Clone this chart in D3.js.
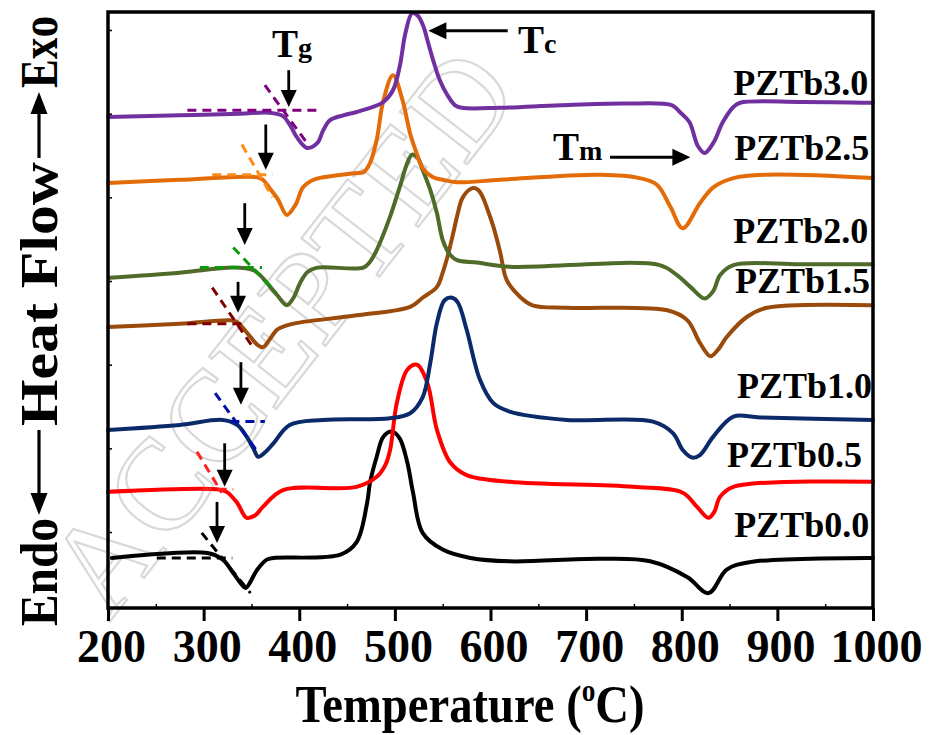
<!DOCTYPE html>
<html>
<head>
<meta charset="utf-8">
<script src="https://cdn.jsdelivr.net/npm/d3@7"></script>
<style>
  body { margin: 0; background: #fff; }
  svg { display: block; }
  text { font-family: "Liberation Serif", "Times New Roman", serif; font-weight: bold; fill: #000; }
</style>
</head>
<body>
<svg id="chart" width="931" height="735"></svg>
<script>
// ---- DSC heat-flow traces, [temperature (°C), heat flow (a.u., offset per sample)] ----
const pztb00 = [[204,0.69],[304,0.75],[320,0.67],[331,0.51],[340,0.37],[344,0.33],[356,0.55],[366,0.67],[373,0.69],
  [443,0.73],[460,0.88],[471,1.35],[474,1.59],[481,1.90],[488,2.14],[497,2.20],[505,2.12],[513,1.83],[519,1.47],
  [529,0.99],[550,0.79],[579,0.69],[620,0.65],[715,0.68],[767,0.65],[806,0.46],[828,0.27],[847,0.55],[871,0.64],[1000,0.69]];
const pztb05 = [[200,1.48],[314,1.51],[324,1.48],[335,1.35],[345,1.17],[354,1.20],[362,1.30],[383,1.50],[460,1.54],
  [481,1.66],[490,1.80],[495,1.98],[502,2.54],[513,2.94],[523,3.00],[534,2.78],[544,2.22],[558,1.83],[575,1.68],
  [620,1.60],[749,1.54],[801,1.47],[816,1.30],[828,1.17],[834,1.24],[840,1.42],[854,1.54],[1000,1.60]];
const pztb10 = [[200,2.22],[275,2.28],[320,2.34],[335,2.28],[345,2.14],[352,2.00],[357,1.90],[364,1.95],[373,2.06],
  [390,2.28],[425,2.34],[495,2.36],[516,2.42],[529,2.61],[537,3.02],[544,3.50],[552,3.77],[560,3.80],[566,3.74],
  [575,3.42],[589,2.82],[603,2.54],[620,2.44],[680,2.34],[770,2.32],[791,2.18],[801,1.98],[811,1.89],[819,1.92],
  [833,2.14],[854,2.38],[882,2.37],[1000,2.34]];
const pztb15 = [[200,3.45],[275,3.49],[328,3.53],[335,3.51],[341,3.44],[349,3.33],[356,3.24],[362,3.21],[369,3.30],
  [377,3.42],[387,3.47],[398,3.50],[460,3.59],[516,3.69],[529,3.80],[544,3.93],[550,4.10],[555,4.29],[561,4.57],
  [565,4.77],[571,5.00],[581,5.11],[587,5.09],[592,5.00],[597,4.85],[603,4.65],[610,4.35],[617,4.01],[631,3.81],
  [644,3.71],[680,3.68],[785,3.65],[806,3.53],[819,3.26],[830,3.10],[838,3.18],[847,3.33],[868,3.57],[889,3.68],[1000,3.71]];
const pztb20 = [[202,4.04],[275,4.10],[331,4.16],[352,4.13],[359,4.07],[366,3.98],[377,3.83],[387,3.71],[394,3.80],
  [401,3.98],[409,4.11],[419,4.16],[467,4.16],[474,4.23],[481,4.37],[495,4.77],[505,5.12],[513,5.41],[518,5.51],
  [524,5.47],[529,5.33],[537,5.09],[544,4.81],[550,4.49],[558,4.31],[565,4.25],[586,4.22],[620,4.17],[777,4.19],
  [795,4.07],[809,3.93],[824,3.79],[833,3.88],[840,4.07],[854,4.19],[924,4.20],[1000,4.20]];
const pztb25 = [[200,5.17],[275,5.21],[356,5.24],[362,5.21],[369,5.11],[378,4.97],[387,4.79],[396,4.91],[404,5.12],
  [415,5.21],[425,5.24],[460,5.29],[467,5.30],[474,5.41],[481,5.69],[488,6.16],[498,6.46],[508,6.16],[516,5.76],
  [523,5.52],[529,5.35],[540,5.24],[550,5.21],[565,5.18],[610,5.21],[715,5.27],[756,5.23],[774,5.15],[788,4.89],
  [801,4.63],[819,4.93],[833,5.12],[854,5.23],[889,5.27],[1000,5.23]];
const pztb30 = [[200,5.96],[275,5.98],[338,6.00],[369,6.01],[383,5.97],[390,5.87],[398,5.71],[408,5.59],[419,5.65],
  [425,5.80],[432,5.92],[446,5.98],[460,6.02],[477,6.08],[488,6.14],[498,6.28],[505,6.56],[511,6.96],[518,7.20],
  [524,7.17],[530,7.04],[534,6.88],[540,6.64],[547,6.40],[555,6.22],[563,6.10],[570,6.07],[610,6.07],[673,6.10],
  [740,6.12],[790,6.10],[798,6.02],[808,5.90],[817,5.61],[824,5.53],[833,5.65],[843,5.90],[854,6.08],[861,6.13],
  [924,6.14],[1000,6.13]];

const sampleNames = ["PZTb0.0", "PZTb0.5", "PZTb1.0", "PZTb1.5", "PZTb2.0", "PZTb2.5", "PZTb3.0"];
const traces = [pztb00, pztb05, pztb10, pztb15, pztb20, pztb25, pztb30];

// Glass-transition onset construction: baseline [T1, T2, v], step tangent [T1, v1, T2, v2]
const tgBaselines = [[251,330,0.69],[299,331,1.51],[328,364,2.32],[283,345,3.49],[296,361,4.16],[309,372,5.27],[283,419,6.04]];
const tgTangents = [[298,0.99,349,0.27],[293,1.96,319,1.47],[312,2.66,357,1.95],[309,3.92,352,3.20],[331,4.40,375,3.87],[340,5.63,372,5.00],[364,6.34,408,5.65]];
// Tg marker arrows: onset temperature, arrow tail and tip heat-flow levels
const tgOnsets = [314, 322, 339, 336, 343, 365, 389];
const tgArrowTail = [1.36, 2.06, 3.03, 3.99, 4.93, 5.87, 6.52];
const tgArrowTip = [0.87, 1.54, 2.52, 3.62, 4.43, 5.33, 6.08];

const xTickValues = [200, 300, 400, 500, 600, 700, 800, 900, 1000];
const xMinorTicks = [250, 350, 450, 550, 650, 750, 850, 950];
const yMinorTicks = [1, 2, 3, 4, 5, 6, 7];

// ---- styling ----
const traceColors = ["#000000", "#ff0000", "#0b2a6a", "#9a4b0b", "#4f6b2a", "#e36c09", "#7030a0"];
const tangentColors = ["#000000", "#ff2020", "#0010a8", "#800000", "#0a9a0a", "#ff8c1a", "#800080"];

// label layout: right end temperature and baseline level for each sample name
const labelLayout = [[996,0.94],[988.5,1.78],[999,2.60],[997,3.86],[995,4.45],[996,5.45],[995,6.22]];

const svg = d3.select("#chart");
const x = d3.scaleLinear().domain([200, 1000]).range([108, 873]);
const y = d3.scaleLinear().domain([0.092, 7.215]).range([608, 12]);

// faint diagonal watermark behind the plot
svg.append("text")
  .attr("transform", "translate(280,330) rotate(-52)")
  .attr("text-anchor", "middle")
  .attr("dy", "0.35em")
  .style("font-weight", "normal")
  .style("font-size", "130px")
  .style("fill", "none")
  .attr("stroke", "#d9d9d9")
  .attr("stroke-width", 2.2)
  .text("ACCEPTED");

const line = d3.line().x(d => x(d[0])).y(d => y(d[1])).curve(d3.curveCatmullRom.alpha(0.5));

// traces
svg.append("g").selectAll("path").data(traces).join("path")
  .attr("d", line)
  .attr("fill", "none")
  .attr("stroke", (d, i) => traceColors[i])
  .attr("stroke-width", 4)
  .attr("stroke-linejoin", "round")
  .attr("stroke-linecap", "round");

// onset construction lines
const dashG = svg.append("g").attr("fill", "none").attr("stroke-width", 3).attr("stroke-dasharray", "9,6");
dashG.selectAll("line.base").data(tgBaselines).join("line").attr("class", "base")
  .attr("x1", d => x(d[0])).attr("x2", d => x(d[1]))
  .attr("y1", d => y(d[2])).attr("y2", d => y(d[2]))
  .attr("stroke", (d, i) => tangentColors[i]);
dashG.selectAll("line.tan").data(tgTangents).join("line").attr("class", "tan")
  .attr("x1", d => x(d[0])).attr("y1", d => y(d[1]))
  .attr("x2", d => x(d[2])).attr("y2", d => y(d[3]))
  .attr("stroke", (d, i) => tangentColors[i]);

// arrow helper: shaft plus filled head, in pixel space
function arrow(g, x1, y1, x2, y2, headLen, headW, width) {
  const dx = x2 - x1, dy = y2 - y1, len = Math.hypot(dx, dy);
  const ux = dx / len, uy = dy / len;
  const bx = x2 - ux * headLen, by = y2 - uy * headLen;
  g.append("line").attr("x1", x1).attr("y1", y1).attr("x2", bx + ux * 2).attr("y2", by + uy * 2)
    .attr("stroke", "#000").attr("stroke-width", width);
  g.append("path")
    .attr("d", `M${x2},${y2}L${bx - uy * headW / 2},${by + ux * headW / 2}L${bx + uy * headW / 2},${by - ux * headW / 2}Z`)
    .attr("fill", "#000");
}

const annot = svg.append("g");
tgOnsets.forEach((t, i) => {
  arrow(annot, x(t), y(tgArrowTail[i]), x(t), y(tgArrowTip[i]), 17, 16, 2.8);
});
// crystallisation peak and melting dip markers
arrow(annot, x(618), y(6.99), x(535), y(6.99), 18, 17, 3);
arrow(annot, x(725), y(5.48), x(809), y(5.48), 18, 17, 3);

function subLabel(tx, ty, main, sub) {
  const t = svg.append("text").attr("x", tx).attr("y", ty);
  t.append("tspan").style("font-size", "39px").text(main);
  t.append("tspan").style("font-size", "28px").text(sub);
}
subLabel(x(371.5), y(6.677), "T", "g");
subLabel(x(628.8), y(6.725), "T", "c");
subLabel(x(665.3), y(5.446), "T", "m");

// sample names
svg.append("g").selectAll("text").data(sampleNames).join("text")
  .attr("x", (d, i) => x(labelLayout[i][0]))
  .attr("y", (d, i) => y(labelLayout[i][1]))
  .attr("text-anchor", "end")
  .style("font-size", "36px")
  .text(d => d);

// frame
svg.append("rect").attr("x", x(200)).attr("y", y(7.215))
  .attr("width", x(1000) - x(200)).attr("height", y(0.092) - y(7.215))
  .attr("fill", "none").attr("stroke", "#000").attr("stroke-width", 3.5);

// bottom axis: major ticks outward with labels
const xAxis = svg.append("g").attr("transform", `translate(0,${y(0.092)})`)
  .call(d3.axisBottom(x).tickValues(xTickValues).tickSize(13).tickPadding(8).tickFormat(d3.format("d")));
xAxis.select(".domain").remove();
xAxis.selectAll(".tick line").attr("stroke", "#000").attr("stroke-width", 3);
xAxis.selectAll(".tick text").attr("x", 3).style("font-size", "46px").style("font-family", "Liberation Serif").style("font-weight", "bold").attr("fill", "#000");

// minor ticks inward
const xMinor = svg.append("g").attr("transform", `translate(0,${y(0.092)})`)
  .call(d3.axisBottom(x).tickValues(xMinorTicks).tickSize(-4).tickFormat(""));
xMinor.select(".domain").remove();
xMinor.selectAll(".tick line").attr("stroke", "#000").attr("stroke-width", 1.5);

const yMinor = svg.append("g").attr("transform", `translate(${x(200)},0)`)
  .call(d3.axisLeft(y).tickValues(yMinorTicks).tickSize(-4).tickFormat(""));
yMinor.select(".domain").remove();
yMinor.selectAll(".tick line").attr("stroke", "#000").attr("stroke-width", 1.5);

// x title
const title = svg.append("text")
  .attr("transform", "translate(470,722) scale(0.88,1)")
  .attr("text-anchor", "middle")
  .style("font-size", "53px");
title.append("tspan").text("Temperature (");
title.append("tspan").attr("dy", -21).style("font-size", "31px").text("o");
title.append("tspan").attr("dy", 21).text("C)");

// y title: Endo <— Heat Flow —> Exo, read bottom to top
const yTitle = svg.append("g");
const yBase = 57;
[["Exo", 52, 72], ["Heat Flow", 294, 264], ["Endo", 572, 108]].forEach(([s, cy, len]) => {
  yTitle.append("text")
    .attr("transform", `translate(${yBase},${cy}) rotate(-90)`)
    .attr("text-anchor", "middle")
    .attr("textLength", len)
    .attr("lengthAdjust", "spacingAndGlyphs")
    .style("font-size", "52px")
    .text(s);
});
arrow(yTitle, yBase - 18, 158, yBase - 18, 92, 22, 17, 3.2);
arrow(yTitle, yBase - 18, 430, yBase - 18, 515, 22, 17, 3.2);
</script>
</body>
</html>
